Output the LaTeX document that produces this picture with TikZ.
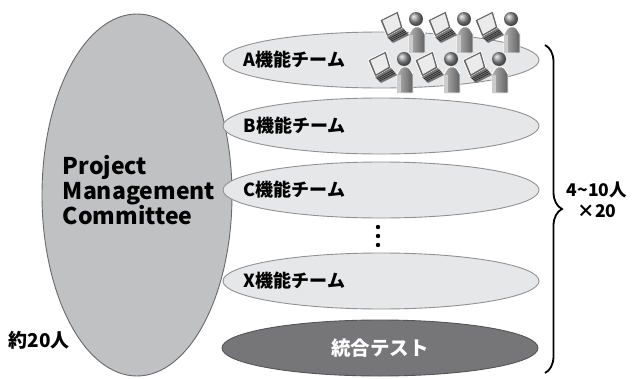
\documentclass[tikz,border=0pt]{standalone}
\usepackage{fontspec}
\setmainfont{Noto Sans CJK JP}
\usetikzlibrary{shapes.geometric,positioning,calc,decorations.pathreplacing}

\definecolor{pmcgray}{RGB}{192,193,195}
\definecolor{pmcline}{RGB}{105,105,108}
\definecolor{teamgray}{RGB}{230,231,232}
\definecolor{teamline}{RGB}{145,145,148}
\definecolor{testgray}{RGB}{118,118,120}
\definecolor{testline}{RGB}{85,85,88}

\tikzset{
  team/.style={ellipse, draw=teamline, fill=teamgray, line width=0.9pt,
    minimum width=316pt, minimum height=56pt, inner sep=0pt},
  teamlabel/.style={anchor=west, inner sep=0pt, font=\bfseries\fontsize{18}{18}\selectfont},
  % person sitting at a laptop
  worker/.pic={
    % body
    \shade[left color=black!30, right color=black!62, draw=white, line width=0.8pt]
      (37,48) -- (37,28) to[out=-90,in=180] (43,22) -- (47,22)
      to[out=0,in=-90] (53,28) -- (53,48) -- cycle;
    \fill[black!20] (37,30) -- (41,30) -- (41,48) -- (37,48) -- cycle;
    % head
    \shade[ball color=black!42] (44,14) circle (7pt);
    % screen
    \fill[black!62, draw=white, line width=0.8pt] (8,15) -- (26,6) -- (31,23) -- (15,32) -- cycle;
    \fill[black!8] (10.5,15.6) -- (24.8,8.6) -- (28.7,21.8) -- (16,29.3) -- cycle;
    % keyboard
    \fill[black!55] (15,32) -- (31,23) -- (37,30) -- (21,38) -- cycle;
    \foreach \k in {0.3,0.5,0.7}
      \draw[black!85, line width=0.6pt] ($(15,32)!\k!(21,38)$) -- ($(31,23)!\k!(37,30)$);
  },
}

\begin{document}
\begin{tikzpicture}[x=1pt, y=-1pt]
\useasboundingbox (0,0) rectangle (638,378);

% committee
\node[ellipse, draw=pmcline, fill=pmcgray, line width=0.9pt,
  minimum width=190pt, minimum height=362pt, inner sep=0pt] (pmc) at (137,195) {};
\node[align=left, font=\bfseries\fontsize{23}{25}\selectfont] (pmctext)
  at ([xshift=2pt, yshift=5pt]pmc.center) {Project\\Management\\Committee};
\node[font=\bfseries\fontsize{19}{19}\selectfont] (size) at (39,340) {約20人};

% function teams
\node[team] (teamA) at (381,60) {};
\node[team] (teamB) at (381,126) {};
\node[team] (teamC) at (381,190) {};
\node[team] (teamX) at (381,281) {};
\node[team, fill=testgray, draw=testline] (test) at (380,348) {};

\node[teamlabel] (labA) at ([xshift=21pt]teamA.west) {A機能チーム};
\node[teamlabel] (labB) at ([xshift=21pt]teamB.west) {B機能チーム};
\node[teamlabel] (labC) at ([xshift=21pt]teamC.west) {C機能チーム};
\node[teamlabel] (labX) at ([xshift=21pt]teamX.west) {X機能チーム};
\node[text=white, font=\bfseries\fontsize{19.5}{20}\selectfont] (labT) at (test.center) {統合テスト};

\foreach \y in {227,236,245}
  \fill (378,\y) circle (2.2pt);

% members of team A
\foreach \x in {372,420,467}
  \pic at (\x,5) {worker};
\foreach \x in {360,407,455}
  \pic at (\x,45) {worker};

% brace over all teams
\coordinate (bt) at (545,45);
\coordinate (bb) at (545,373);
\draw[decorate, decoration={brace, amplitude=17pt}, line width=1.8pt] (bt) -- (bb);
\node[align=center, font=\bfseries\fontsize{17.5}{21}\selectfont] (count) at (597,200)
  {4\textasciitilde10人\\×20};
\end{tikzpicture}
\end{document}
